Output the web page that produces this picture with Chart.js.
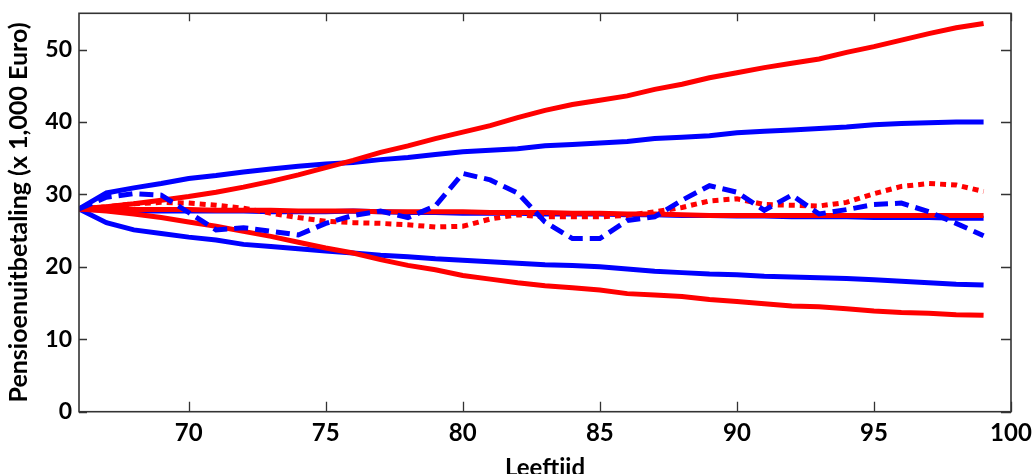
<!DOCTYPE html>
<html>
<head>
<meta charset="utf-8">
<script src="https://cdn.jsdelivr.net/npm/chart.js@4"></script>
<style>
  html, body { margin: 0; padding: 0; background: #fff; }
</style>
</head>
<body>
<canvas id="pension-chart" width="1034" height="474"></canvas>
<script>
// Ages on the x axis (one value per year)
const ages = [66, 67, 68, 69, 70, 71, 72, 73, 74, 75, 76, 77, 78, 79, 80, 81, 82,
              83, 84, 85, 86, 87, 88, 89, 90, 91, 92, 93, 94, 95, 96, 97, 98, 99];

const redUpper = [28.0, 28.3, 28.7, 29.2, 29.7, 30.3, 31.0, 31.8, 32.7, 33.7, 34.7, 35.8, 36.7, 37.7, 38.6, 39.5, 40.6,
                  41.6, 42.4, 43.0, 43.6, 44.5, 45.2, 46.1, 46.8, 47.5, 48.1, 48.7, 49.6, 50.4, 51.3, 52.2, 53.0, 53.6];
const blueUpper = [28.0, 30.2, 30.9, 31.5, 32.2, 32.6, 33.1, 33.5, 33.9, 34.2, 34.4, 34.8, 35.1, 35.5, 35.9, 36.1, 36.3,
                   36.7, 36.9, 37.1, 37.3, 37.7, 37.9, 38.1, 38.5, 38.7, 38.9, 39.1, 39.3, 39.6, 39.8, 39.9, 40.0, 40.0];
const redMedian = [28.0, 28.0, 27.9, 27.9, 27.9, 27.8, 27.8, 27.8, 27.7, 27.7, 27.7, 27.6, 27.6, 27.6, 27.6, 27.5, 27.5,
                   27.5, 27.4, 27.4, 27.3, 27.3, 27.2, 27.1, 27.1, 27.1, 27.1, 27.1, 27.1, 27.1, 27.1, 27.1, 27.1, 27.1];
const blueMedian = [28.0, 27.8, 27.7, 27.7, 27.7, 27.7, 27.7, 27.6, 27.6, 27.6, 27.7, 27.6, 27.5, 27.5, 27.4, 27.4, 27.4,
                    27.3, 27.3, 27.3, 27.2, 27.2, 27.1, 27.1, 27.0, 27.0, 26.9, 26.9, 26.9, 26.8, 26.8, 26.8, 26.7, 26.7];
const blueLower = [28.0, 26.1, 25.1, 24.6, 24.1, 23.7, 23.1, 22.8, 22.5, 22.2, 21.9, 21.6, 21.4, 21.1, 20.9, 20.7, 20.5,
                   20.3, 20.2, 20.0, 19.7, 19.4, 19.2, 19.0, 18.9, 18.7, 18.6, 18.5, 18.4, 18.2, 18.0, 17.8, 17.6, 17.5];
const redLower = [28.0, 27.7, 27.3, 26.8, 26.2, 25.6, 24.9, 24.2, 23.4, 22.6, 21.9, 21.0, 20.2, 19.6, 18.8, 18.3, 17.8,
                  17.4, 17.1, 16.8, 16.3, 16.1, 15.9, 15.5, 15.2, 14.9, 14.6, 14.5, 14.2, 13.9, 13.7, 13.6, 13.4, 13.3];
const blueDashed = [28.0, 29.6, 30.1, 29.9, 27.5, 25.1, 25.4, 24.9, 24.4, 26.0, 27.1, 27.7, 26.8, 28.4, 32.9, 32.0, 30.2,
                    26.2, 23.9, 23.9, 26.4, 26.9, 29.2, 31.2, 30.3, 27.8, 29.9, 27.3, 27.9, 28.6, 28.8, 27.6, 26.0, 24.3];
const redDotted = [28.0, 28.3, 28.7, 28.9, 28.8, 28.5, 28.1, 27.4, 26.8, 26.3, 26.1, 26.0, 25.8, 25.5, 25.6, 26.6, 27.2,
                   26.9, 26.9, 26.9, 27.1, 27.6, 28.2, 29.1, 29.4, 28.6, 28.5, 28.4, 28.9, 30.1, 31.1, 31.5, 31.3, 30.4];

const xTicks = [70, 75, 80, 85, 90, 95, 100];
const yTicks = [0, 10, 20, 30, 40, 50];

const RED = '#ff0000';
const BLUE = '#0000ff';

function series(values, color, order, dash) {
    return {
        data: ages.map((a, i) => ({ x: a, y: values[i] })),
        borderColor: color,
        borderWidth: 5,
        borderDash: dash || [],
        borderCapStyle: 'butt',
        pointRadius: 0,
        tension: 0,
        fill: false,
        order: order
    };
}

// inward tick marks + box frame, like the original plot
const frameTicks = {
    id: 'frameTicks',
    afterDraw(chart) {
        const { ctx, chartArea: a, scales } = chart;
        ctx.save();
        ctx.strokeStyle = '#333';
        ctx.lineWidth = 1.3;
        ctx.beginPath();
        xTicks.forEach(v => {
            const px = Math.round(scales.x.getPixelForValue(v)) + 0.5;
            ctx.moveTo(px, a.bottom); ctx.lineTo(px, a.bottom - 10);
            ctx.moveTo(px, a.top); ctx.lineTo(px, a.top + 8);
        });
        yTicks.forEach(v => {
            const py = Math.round(scales.y.getPixelForValue(v)) + 0.5;
            ctx.moveTo(a.left, py); ctx.lineTo(a.left + 8, py);
            ctx.moveTo(a.right, py); ctx.lineTo(a.right - 10, py);
        });
        ctx.stroke();
        ctx.lineWidth = 1.6;
        ctx.strokeRect(a.left, a.top, a.right - a.left, a.bottom - a.top);
        ctx.restore();
    }
};

new Chart(document.getElementById('pension-chart').getContext('2d'), {
    type: 'line',
    data: {
        datasets: [
            series(blueUpper, BLUE, 8),
            series(blueMedian, BLUE, 7),
            series(blueLower, BLUE, 6),
            series(redUpper, RED, 5),
            series(redMedian, RED, 4),
            series(redLower, RED, 3),
            series(redDotted, RED, 2, [6, 5]),
            series(blueDashed, BLUE, 1, [14, 7])
        ]
    },
    options: {
        responsive: false,
        animation: false,
        layout: { padding: { top: 13.3, right: 23, left: 0, bottom: 0 } },
        plugins: {
            legend: { display: false },
            tooltip: { enabled: false }
        },
        scales: {
            x: {
                type: 'linear',
                min: 66,
                max: 100,
                afterBuildTicks: s => { s.ticks = xTicks.map(v => ({ value: v })); },
                afterFit: s => { s.height = 62.3; },
                grid: { display: false, drawTicks: false },
                border: { display: false },
                ticks: {
                    color: '#000',
                    font: { family: 'Lato', weight: 'bold', size: 24, lineHeight: 1.75 },
                    padding: 1,
                    maxRotation: 0
                },
                title: {
                    display: true,
                    text: 'Leeftijd',
                    color: '#000',
                    font: { family: 'Lato', weight: 'bold', size: 24, lineHeight: 0.1 },
                    padding: { top: 0, bottom: 4.5 }
                }
            },
            y: {
                type: 'linear',
                min: 0,
                max: 55,
                afterBuildTicks: s => { s.ticks = yTicks.map(v => ({ value: v })); },
                afterFit: s => { s.width = 79; },
                grid: { display: false, drawTicks: false },
                border: { display: false },
                ticks: {
                    color: '#000',
                    font: { family: 'Lato', weight: 'bold', size: 23, lineHeight: 0.4 },
                    padding: 7
                },
                title: {
                    display: true,
                    text: 'Pensioenuitbetaling (x 1,000 Euro)',
                    color: '#000',
                    font: { family: 'Lato', weight: 'bold', size: 25 },
                    padding: { top: 4, bottom: 0 }
                }
            }
        }
    },
    plugins: [frameTicks]
});
</script>
</body>
</html>
